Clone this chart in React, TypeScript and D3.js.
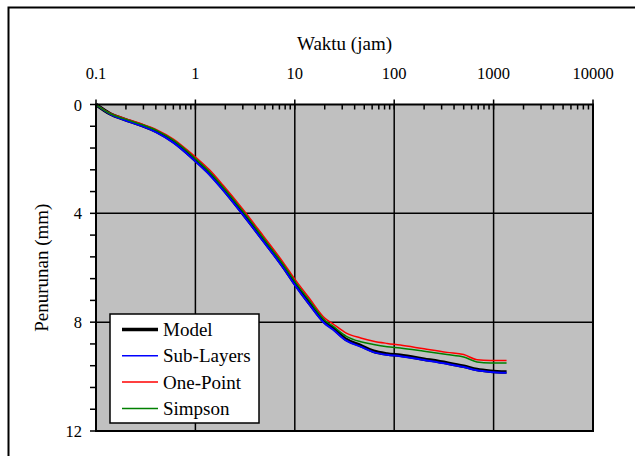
import React from "react";
import * as d3 from "d3";

const times = [0.1, 0.14, 0.19, 0.28, 0.41, 0.6, 0.89, 1.0, 1.4, 1.9, 3.0, 4.8, 7.7, 10, 14, 20, 24, 33, 46, 62, 85, 115, 200, 340, 500, 680, 930, 1350];
const model = [0, 0.35, 0.54, 0.75, 1.0, 1.36, 1.88, 2.05, 2.55, 3.1, 4.0, 4.97, 5.97, 6.58, 7.3, 8.0, 8.21, 8.64, 8.86, 9.07, 9.17, 9.22, 9.36, 9.5, 9.62, 9.74, 9.8, 9.83];
const subLayers = [0, 0.36, 0.56, 0.77, 1.03, 1.4, 1.92, 2.09, 2.6, 3.15, 4.05, 5.02, 6.02, 6.63, 7.35, 8.05, 8.26, 8.68, 8.9, 9.1, 9.2, 9.25, 9.39, 9.53, 9.65, 9.77, 9.83, 9.86];
const onePoint = [0, 0.33, 0.5, 0.7, 0.93, 1.27, 1.77, 1.93, 2.42, 2.97, 3.85, 4.82, 5.82, 6.42, 7.12, 7.85, 8.05, 8.4, 8.58, 8.7, 8.78, 8.84, 8.98, 9.11, 9.19, 9.38, 9.41, 9.41];
const simpson = [0, 0.34, 0.52, 0.72, 0.96, 1.31, 1.82, 1.99, 2.49, 3.04, 3.92, 4.9, 5.9, 6.5, 7.2, 7.93, 8.14, 8.52, 8.72, 8.82, 8.9, 8.95, 9.07, 9.19, 9.28, 9.46, 9.5, 9.5];

const seriesNames = ["Model", "Sub-Layers", "One-Point", "Simpson"];
const seriesColors = ["#000000", "#0000ff", "#ff0000", "#008000"];
const seriesWidths = [3.5, 2, 1.5, 1.5];
const seriesData = [model, subLayers, onePoint, simpson];

const xTicks = [0.1, 1, 10, 100, 1000, 10000];
const xTickLabels = ["0.1", "1", "10", "100", "1000", "10000"];
const yTicks = [0, 4, 8, 12];

const W = 635, H = 456;
const L = 96, R = 593, T = 104.5, B = 431;
const FONT = "'Liberation Serif', 'Times New Roman', Times, serif";

export default function App() {
  const x = d3.scaleLog().domain([0.1, 10000]).range([L, R]);
  const y = d3.scaleLinear().domain([0, 12]).range([T, B]);

  const minorX: number[] = [];
  for (let e = -1; e < 4; e++) {
    for (let k = 2; k <= 9; k++) minorX.push(k * Math.pow(10, e));
  }
  const minorY = d3.range(0, 12.001, 0.8).filter((v) => Math.abs(v / 4 - Math.round(v / 4)) > 1e-6);

  const line = d3
    .line<number>()
    .x((_, i) => x(times[i]))
    .y((d) => y(d))
    .curve(d3.curveMonotoneX);

  const legX = 110, legY = 314, legW = 149, legH = 109;
  const ts = { fontFamily: FONT } as React.CSSProperties;

  return (
    <svg
      width={W}
      height={H}
      style={{ position: "absolute", left: 0, top: 0, background: "#fff", fontFamily: FONT }}
    >
      <rect x={8.5} y={7.5} width={700} height={600} fill="#fff" stroke="#000" strokeWidth={2} />
      <rect x={L} y={T} width={R - L} height={B - T} fill="#c0c0c0" />
      {xTicks.slice(1, -1).map((t) => (
        <line key={"gx" + t} x1={x(t)} x2={x(t)} y1={T} y2={B} stroke="#000" strokeWidth={1.5} />
      ))}
      {yTicks.slice(1, -1).map((t) => (
        <line key={"gy" + t} x1={L} x2={R} y1={y(t)} y2={y(t)} stroke="#000" strokeWidth={1.5} />
      ))}
      {seriesData.map((d, i) => (
        <path key={seriesNames[i]} d={line(d) || ""} fill="none" stroke={seriesColors[i]} strokeWidth={seriesWidths[i]} />
      ))}
      <rect x={L} y={T} width={R - L} height={B - T} fill="none" stroke="#000" strokeWidth={2} />
      {xTicks.map((t) => (
        <line key={"tx" + t} x1={x(t)} x2={x(t)} y1={T - 5} y2={T + 5} stroke="#000" strokeWidth={1.5} />
      ))}
      {minorX.map((t) => (
        <line key={"mx" + t} x1={x(t)} x2={x(t)} y1={T} y2={T + 5} stroke="#000" strokeWidth={1.5} />
      ))}
      {xTicks.map((t, i) => (
        <text key={"lx" + t} style={ts} x={x(t)} y={79} textAnchor="middle" fontSize={16.5} fill="#000">
          {xTickLabels[i]}
        </text>
      ))}
      <text style={ts} x={(L + R) / 2} y={50} textAnchor="middle" fontSize={19} fill="#000">
        Waktu (jam)
      </text>
      {yTicks.map((t) => (
        <line key={"ty" + t} x1={L - 6} x2={L} y1={y(t)} y2={y(t)} stroke="#000" strokeWidth={1.5} />
      ))}
      {minorY.map((t) => (
        <line key={"my" + t} x1={L - 6} x2={L} y1={y(t)} y2={y(t)} stroke="#000" strokeWidth={1.5} />
      ))}
      {yTicks.map((t) => (
        <text key={"ly" + t} style={ts} x={82} y={y(t) + 6} textAnchor="end" fontSize={16.5} fill="#000">
          {t}
        </text>
      ))}
      <text
        style={ts}
        transform={`translate(48, ${(T + B) / 2}) rotate(-90)`}
        textAnchor="middle"
        fontSize={19}
        fill="#000"
      >
        Penurunan (mm)
      </text>
      <rect x={legX} y={legY} width={legW} height={legH} fill="#fff" stroke="#000" strokeWidth={1.5} />
      {seriesNames.map((n, i) => {
        const cy = 329.5 + i * 26.3;
        return (
          <g key={"leg" + n}>
            <line x1={122} x2={158} y1={cy} y2={cy} stroke={seriesColors[i]} strokeWidth={i === 0 ? 3.5 : 1.5} />
            <text style={ts} x={163} y={cy + 6.5} fontSize={19} fill="#000">
              {n}
            </text>
          </g>
        );
      })}
    </svg>
  );
}
